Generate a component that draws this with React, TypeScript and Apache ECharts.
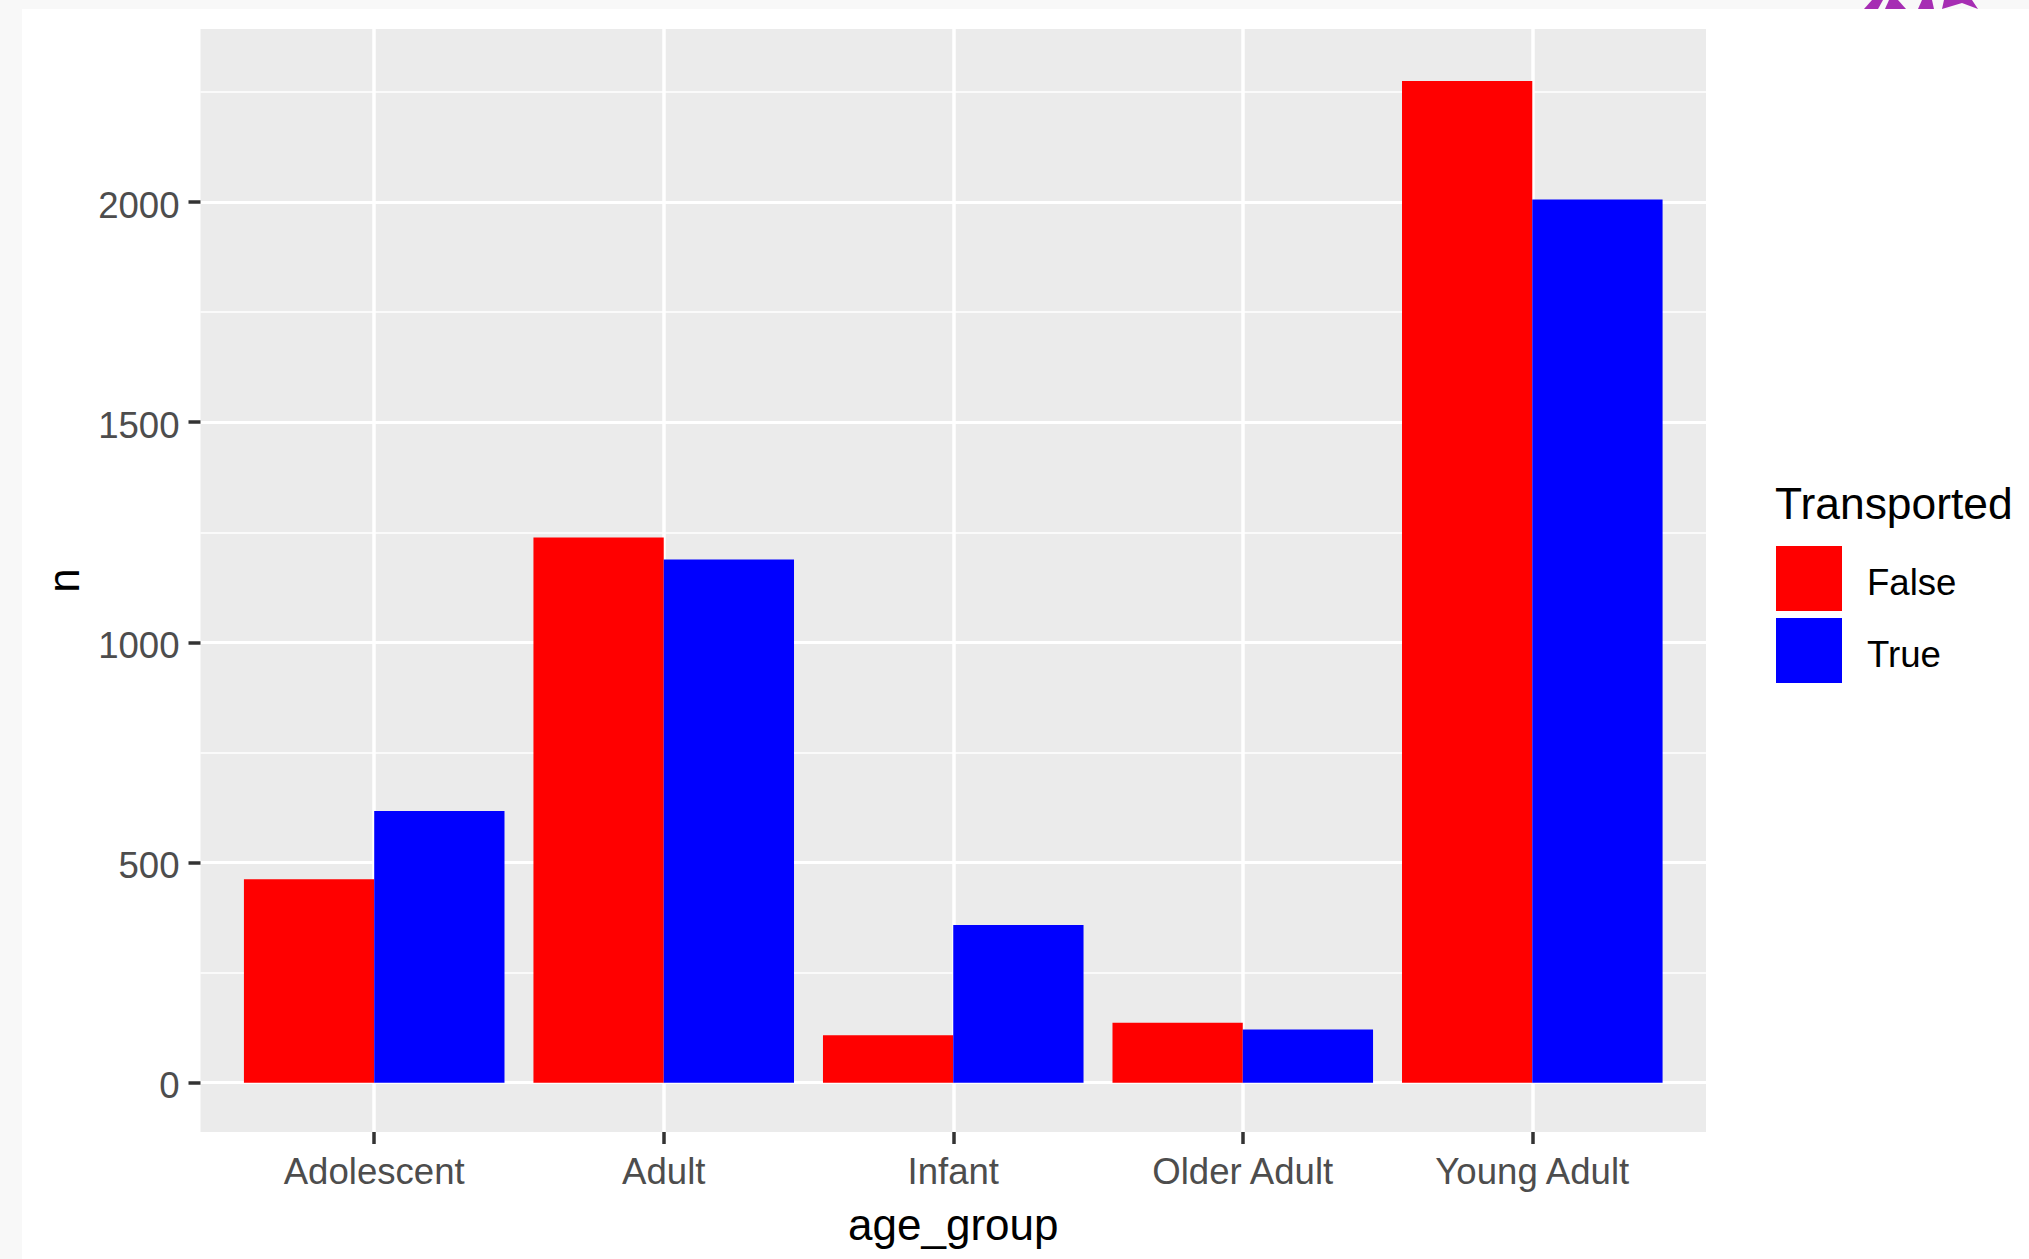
import React, { useEffect, useRef } from "react";
import * as echarts from "echarts";

const categories = ["Adolescent", "Adult", "Infant", "Older Adult", "Young Adult"];
const categoryPositions = [1, 2, 3, 4, 5];
const falseValues = [462, 1238, 108, 136, 2275];
const trueValues = [617, 1188, 358, 121, 2006];
const majorTicks = [0, 500, 1000, 1500, 2000];
const minorTicks = [250, 750, 1250, 1750, 2250];
const FONT = "'Liberation Sans', Arial, sans-serif";

const pair = (vals: number[]) => vals.map((v, i) => [categoryPositions[i], v]);

export default function App() {
  const ref = useRef<HTMLDivElement>(null);
  useEffect(() => {
    document.body.style.margin = "0";
    const chart = echarts.init(ref.current!, undefined, { renderer: "svg" });
    chart.setOption({
      animation: false,
      backgroundColor: "#f8f8f8",
      textStyle: { fontFamily: FONT },
      grid: { left: 200.5, top: 29, width: 1505.5, height: 1103, show: true, backgroundColor: "#EBEBEB", borderWidth: 0, outerBoundsMode: "none", containLabel: false },
      legend: {
        left: 1776,
        top: 546,
        padding: 0,
        orient: "vertical",
        itemWidth: 66,
        itemHeight: 65,
        itemGap: 7,
        icon: "rect",
        data: ["False", "True"],
        formatter: "{a|{name}}",
        textStyle: {
          rich: { a: { fontFamily: FONT, fontSize: 36.6, color: "#000", padding: [8, 0, 0, 20] } },
        },
      },
      xAxis: {
        type: "value",
        min: 0.4,
        max: 5.6,
        name: "age_group",
        nameLocation: "middle",
        nameGap: 70,
        nameTextStyle: { fontFamily: FONT, fontSize: 44, color: "#000" },
        axisLine: { show: false, onZero: false },
        axisTick: { show: true, length: 12, lineStyle: { color: "#333", width: 3.5 }, customValues: categoryPositions },
        axisLabel: {
          customValues: categoryPositions,
          margin: 21,
          fontFamily: FONT,
          fontSize: 36.6,
          color: "#4D4D4D",
          formatter: (v: number) => categories[Math.round(v) - 1],
        },
        splitLine: { show: true, lineStyle: { color: "#fff", width: 3.5 } },
      },
      yAxis: [
        {
          type: "value",
          min: -112,
          max: 2393,
          name: "n",
          nameLocation: "middle",
          nameGap: 115,
          nameTextStyle: { fontFamily: FONT, fontSize: 44, color: "#000" },
          axisLine: { show: false, onZero: false },
          axisTick: { show: true, length: 12, lineStyle: { color: "#333", width: 3.5 }, customValues: majorTicks },
          axisLabel: { customValues: majorTicks, margin: 21, verticalAlign: "top", lineHeight: 6, fontFamily: FONT, fontSize: 36.6, color: "#4D4D4D", formatter: (v: number) => String(v) },
          splitLine: { show: true, lineStyle: { color: "#fff", width: 3 } },
        },
        {
          type: "value",
          min: -112,
          max: 2393,
          position: "left",
          axisLine: { show: false, onZero: false },
          axisTick: { show: false, customValues: minorTicks },
          axisLabel: { show: false, customValues: minorTicks },
          splitLine: { show: true, lineStyle: { color: "#fff", width: 1.5 } },
        },
      ],
      series: [
        { name: "False", type: "bar", data: pair(falseValues), barWidth: "45%", barGap: 0, itemStyle: { color: "#FF0000" }, z: 5 },
        { name: "True", type: "bar", data: pair(trueValues), barWidth: "45%", barGap: 0, itemStyle: { color: "#0000FF" }, z: 5 },
      ],
      graphic: [
        { type: "rect", z: -10, silent: true, shape: { x: 22, y: 9, width: 2007, height: 1250 }, style: { fill: "#fff" } },
        { type: "text", x: 1775, y: 503, style: { text: "Transported", font: `44.4px ${FONT}`, fill: "#000", textVerticalAlign: "middle" } },
        { type: "polygon", silent: true, shape: { points: [[1864, 9], [1872, 0], [1883, 0], [1878, 9]] }, style: { fill: "#A62DB3" } },
        { type: "polygon", silent: true, shape: { points: [[1885, 9], [1889, 0], [1898, 0], [1906, 9]] }, style: { fill: "#A62DB3" } },
        { type: "polygon", silent: true, shape: { points: [[1918, 9], [1922, 0], [1932, 0], [1934, 9]] }, style: { fill: "#A62DB3" } },
        { type: "polygon", silent: true, shape: { points: [[1942, 9], [1944, 0], [1972, 0], [1978, 9], [1962, 3]] }, style: { fill: "#A62DB3" } },
      ],
    });
    return () => chart.dispose();
  }, []);
  return <div ref={ref} style={{ position: "absolute", left: 0, top: 0, width: 2029, height: 1259 }} />;
}
